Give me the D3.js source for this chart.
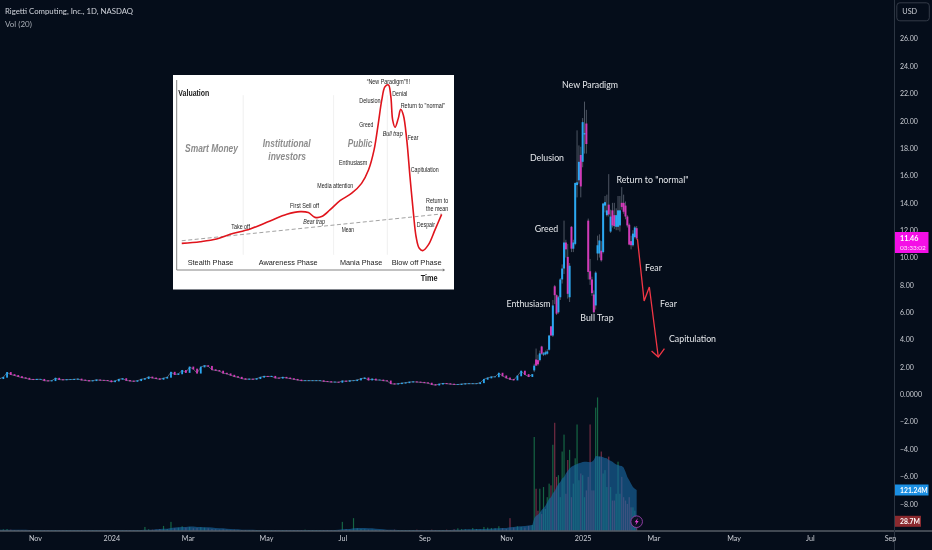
<!DOCTYPE html>
<html>
<head>
<meta charset="utf-8">
<script src="https://cdn.jsdelivr.net/npm/d3@7"></script>
<style>
  html, body { margin: 0; padding: 0; background: #050d1a; overflow: hidden; }
  svg { display: block; filter: blur(0.35px); }
  text { font-family: Lato, "Noto Sans", sans-serif; }
  .inset text { font-family: "Liberation Sans", sans-serif; fill: #1c1c1c; }
</style>
</head>
<body>
<div class="canvas"></div>
<script>
////////// DATA ///////////////////

// quiet stretch, one close read every two sessions
const flatCloses = [
  1.15,1.25,1.6,1.45,1.38,1.3,1.22,1.18,1.1,1.08,
  1.1,1.1,1.0,0.98,1.0,1.18,1.08,1.06,1.08,1.08,
  1.1,1.12,1.05,1.02,0.98,1.0,1.06,1.03,1.02,1.0,
  0.92,0.98,1.1,1.15,1.02,0.98,0.95,1.0,1.1,1.15,
  1.27,1.2,1.15,1.1,1.18,1.25,1.62,1.45,1.5,1.75,
  1.6,2.0,1.85,1.55,2.0,2.1,2.05,1.8,1.75,1.7,
  1.55,1.5,1.4,1.3,1.25,1.15,1.1,1.12,1.1,1.15,
  1.25,1.32,1.3,1.32,1.2,1.18,1.25,1.2,1.15,1.1,
  1.05,1.0,1.0,1.0,1.0,1.0,1.0,0.95,0.93,0.9,
  0.9,0.88,0.98,0.95,1.0,1.0,1.05,1.15,1.2,1.05,
  1.12,1.05,1.05,1.0,0.98,0.78,0.75,0.78,0.82,0.85,
  0.9,0.92,0.9,0.88,0.85,0.82,0.72,0.68,0.75,0.8,
  0.78,0.75,0.72,0.72,0.75,0.78,0.78,0.78,0.78,0.85,
  1.1,1.2,1.28,1.28,1.55,1.35,1.2,1.1,1.05,1.35,
  1.7,1.45,1.3,1.45
];
const flatVolumes = [
  4,5,6,4,3,3,3,2,3,3,
  2,2,3,3,2,3,2,2,3,2,
  2,2,3,2,2,3,2,2,2,3,
  2,3,2,2,3,3,2,2,3,12,
  5,4,4,6,15,6,27,8,10,14,
  10,12,8,9,11,10,8,6,5,4,
  5,4,3,4,3,3,3,3,3,3,
  3,3,3,3,3,2,3,3,2,3,
  3,3,4,3,3,3,3,3,3,3,
  3,3,27,5,4,38,8,6,5,4,
  4,3,3,3,3,3,4,3,3,3,
  3,3,4,3,3,3,4,3,3,3,
  4,3,5,8,6,5,4,9,6,5,
  12,10,9,8,14,8,6,38,10,14,
  12,10,15,18
];
const flatVolMA = [
  4,4,4,4,4,4,4,4,3,3,
  3,3,3,3,3,3,3,3,3,3,
  3,3,3,3,3,3,3,3,3,3,
  3,3,3,3,3,3,3,3,3,4,
  4,4,5,6,7,7,9,10,11,12,
  12,13,13,12,12,11,11,10,9,8,
  8,7,6,5,5,4,4,4,4,3,
  3,3,3,3,3,3,3,3,3,3,
  3,3,3,3,3,3,3,3,3,3,
  3,4,5,6,6,8,9,9,9,8,
  8,7,6,5,4,4,4,3,3,3,
  3,3,3,3,3,3,3,3,3,3,
  3,3,4,4,4,5,5,5,6,6,
  6,7,7,8,8,9,9,11,12,13,
  14,15,16,18
];

// daily candles of the run up and the fall
const opens = [
  1.75,2.55,2.5,2.5,3.5,2.9,2.92,2.97,3.26,4.97,
  4.3,7.9,7.25,6.0,7.1,8.4,9.2,11.1,10.05,7.1,
  12.25,10.65,11.0,15.3,15.65,17.5,17.0,19.0,19.8,12.7,
  9.0,8.4,7.3,6.5,10.3,10.3,10.5,10.4,13.8,13.1,
  13.87,11.9,13.45,13.1,12.25,12.25,12.35,14.0,14.0,13.8,
  13.0,12.4,11.2,10.9,11.5,12.15
];
const highs = [
  2.24,3.35,2.9,3.2,3.55,3.1,3.2,3.3,4.35,5.0,
  6.9,8.0,7.3,7.2,8.5,9.5,12.7,11.3,11.0,9.6,
  12.3,11.3,15.5,19.3,18.2,18.1,20.2,21.4,20.8,12.85,
  9.9,8.6,7.6,9.0,11.6,11.7,11.2,14.0,14.5,14.6,
  16.1,13.5,14.0,14.0,13.6,14.5,14.5,15.15,14.6,14.1,
  13.1,12.5,11.6,12.0,12.3,12.3
];
const lows = [
  1.63,2.1,2.1,2.4,2.9,2.8,2.85,2.9,3.2,4.3,
  4.2,6.6,5.8,5.9,6.9,8.1,8.8,10.0,7.0,6.75,
  10.4,10.4,10.9,14.4,15.4,14.4,16.6,17.6,17.6,8.4,
  8.0,7.2,5.9,6.2,9.8,10.0,9.7,10.3,13.3,13.0,
  13.0,11.8,12.2,12.1,12.0,12.0,11.9,13.5,13.2,12.8,
  12.2,10.9,10.6,10.8,11.4,11.3
];
const closes = [
  2.1,2.1,2.2,3.0,2.97,3.0,3.08,3.14,4.3,4.3,
  6.5,7.25,5.9,7.1,8.4,9.2,11.1,10.6,7.35,9.4,
  10.65,11.1,15.45,15.5,17.0,15.2,19.9,19.1,18.3,8.95,
  8.4,7.4,6.0,8.9,10.9,11.25,9.8,13.95,14.05,13.45,
  13.15,13.0,12.35,12.3,13.1,13.45,13.45,13.7,13.35,13.0,
  12.35,10.95,10.9,11.75,12.2,11.4
];
const volumes = [
  278,125,60,125,50,130,65,100,140,135,
  255,320,160,165,100,235,285,110,210,240,
  100,140,215,315,150,170,165,100,120,160,
  315,120,120,365,395,220,235,170,180,130,
  220,130,90,90,110,205,110,160,100,90,
  80,100,70,70,60,28.7
];
const volMA = [
  38,45,48,55,62,68,75,85,95,100,
  112,118,130,140,145,155,160,170,178,185,
  190,193,196,198,200,202,204,205,205,204,
  203,205,210,222,221,220,220,218,216,215,
  210,208,205,200,197,195,193,192,188,175,
  160,150,140,130,125,121.24
];

// session number of each time label, session 0 is the first one of Nov 2023
const timeTickSessions = [0, 41, 82, 124, 165, 209, 253, 294, 332, 375, 416, 459];
const timeTickLabels = ['Nov', '2024', 'Mar', 'May', 'Jul', 'Sep', 'Nov', '2025', 'Mar', 'May', 'Jul', 'Sep'];
const priceTicks = [26, 24, 22, 20, 18, 16, 14, 12, 10, 8, 6, 4, 2, 0, -2, -4, -6, -8];

// drawn projection of the fall
const arrowSessions = [323.4, 327, 329.8, 334.6];
const arrowPrices = [11.39, 6.83, 7.85, 2.73];
const arrowHeadSessions = [331, 334.6, 337.9];
const arrowHeadPrices = [3.17, 2.73, 3.34];

// pasted cycle picture, time and valuation both run 0 to 100 on its own axes
const cycleTime = [
  1.9,8.8,15.0,20.1,27.6,35.1,41.4,46.4,49.5,52.0,54.5,57.6,61.4,65.8,69.5,72.1,74.2,75.8,
  77.1,78.3,79.6,80.5,81.2,82.1,83.3,84.2,85.2,86.5,87.7,89.0,90.0,91.2,92.5,94.6,97.1,99.6
];
const cycleValue = [
  14.0,14.9,16.3,18.8,21.6,25.8,29.3,30.7,30.2,27.7,28.1,31.6,36.5,40.4,45.6,52.6,63.2,77.2,
  89.5,96.5,97.4,91.2,78.9,75.1,79.8,84.6,81.6,68.4,49.1,29.8,17.5,11.4,10.2,13.2,21.1,29.3
];
const meanTime = [1.9, 99.6];
const meanValue = [15.4, 29.5];

////////// SET SVG VARIABLES ///////////////////

const width = 932;
const height = 550;
const axisX = 894.5;
const baseY = 531;

const upColor = '#2aa8f2';
const downColor = '#d23ab8';
const wickColor = '#565e6b';
const labelColor = '#c9ccd3';

const svg = d3.select('.canvas')
  .append('svg')
  .attr('width', width)
  .attr('height', height);

svg.append('rect')
  .attr('width', width)
  .attr('height', height)
  .attr('fill', '#050d1a');

const x = d3.scaleLinear().domain([0, 459]).range([35, 890]);
const y = d3.scaleLinear().domain([-8, 26]).range([503.8, 38.7]);
const vol = d3.scaleLinear().domain([0, 121.24]).range([baseY, 490]);

const firstFlatSession = -19;
const firstCandleSession = 268;

const flat = flatCloses.map((c, i) => ({
  session: firstFlatSession + i * 2,
  open: i ? flatCloses[i - 1] : c,
  close: c,
  volume: flatVolumes[i],
  ma: flatVolMA[i]
}));
const candles = closes.map((c, i) => ({
  session: firstCandleSession + i,
  open: opens[i],
  high: highs[i],
  low: lows[i],
  close: c,
  volume: volumes[i],
  ma: volMA[i]
}));
const allBars = flat.concat(candles);

////////// VOLUME ///////////////////

const volArea = d3.area()
  .x(d => x(d.session))
  .y0(baseY)
  .y1(d => vol(d.ma))
  .curve(d3.curveLinear);

svg.selectAll('.vol-bar')
  .data(allBars)
  .enter()
  .append('rect')
  .attr('class', 'vol-bar')
  .attr('x', d => x(d.session) - 0.6)
  .attr('y', d => vol(d.volume))
  .attr('width', 1.2)
  .attr('height', d => baseY - vol(d.volume))
  .attr('fill', d => d.close >= d.open ? '#1c8a55' : '#a23a55')
  .attr('opacity', 0.7);

svg.append('path')
  .datum(allBars)
  .attr('d', volArea)
  .attr('fill', '#1a6aa6')
  .attr('opacity', 0.62);

////////// CANDLES ///////////////////

svg.append('path')
  .datum(flat)
  .attr('d', d3.line().x(d => x(d.session)).y(d => y(d.close)))
  .attr('fill', 'none')
  .attr('stroke', '#6a7280')
  .attr('stroke-width', 0.8);

svg.selectAll('.flat-body')
  .data(flat)
  .enter()
  .append('rect')
  .attr('class', 'flat-body')
  .attr('x', d => x(d.session) - 0.9)
  .attr('y', d => y(Math.max(d.open, d.close)) - 0.4)
  .attr('width', 1.8)
  .attr('height', d => Math.abs(y(d.open) - y(d.close)) + 0.8)
  .attr('fill', d => d.close >= d.open ? upColor : downColor);

svg.selectAll('.wick')
  .data(candles)
  .enter()
  .append('line')
  .attr('class', 'wick')
  .attr('x1', d => x(d.session))
  .attr('x2', d => x(d.session))
  .attr('y1', d => y(d.high))
  .attr('y2', d => y(d.low))
  .attr('stroke', wickColor)
  .attr('stroke-width', 0.9);

svg.selectAll('.body')
  .data(candles)
  .enter()
  .append('rect')
  .attr('class', 'body')
  .attr('x', d => x(d.session) - 1)
  .attr('y', d => y(Math.max(d.open, d.close)))
  .attr('width', 2)
  .attr('height', d => Math.max(1, Math.abs(y(d.open) - y(d.close))))
  .attr('fill', d => d.close >= d.open ? upColor : downColor);

////////// AXES ///////////////////

// grey line under the panes and the price axis line
svg.append('line')
  .attr('x1', 0).attr('x2', width)
  .attr('y1', baseY).attr('y2', baseY)
  .attr('stroke', '#565c66')
  .attr('stroke-width', 1.4);

svg.append('line')
  .attr('x1', axisX).attr('x2', axisX)
  .attr('y1', 0).attr('y2', height)
  .attr('stroke', '#2c3542');

const yAxis = d3.axisRight(y)
  .tickValues(priceTicks)
  .tickSize(0)
  .tickPadding(5.5)
  .tickFormat(d => d === 0 ? '0.0000' : (d < 0 ? '\u2212' + d3.format('.2f')(-d) : d3.format('.2f')(d)));

const gY = svg.append('g')
  .attr('transform', `translate(${axisX}, 0)`)
  .call(yAxis);
gY.select('.domain').remove();
gY.selectAll('text')
  .attr('fill', labelColor)
  .style('font-size', '7px');

const xAxis = d3.axisBottom(x)
  .tickValues(timeTickSessions)
  .tickSize(0)
  .tickPadding(4.5)
  .tickFormat((d, i) => timeTickLabels[i]);

const gX = svg.append('g')
  .attr('transform', `translate(0, ${baseY})`)
  .call(xAxis);
gX.select('.domain').remove();
gX.selectAll('text')
  .attr('fill', labelColor)
  .style('font-size', '7.2px');

////////// TITLE ///////////////////

svg.append('text')
  .attr('x', 5).attr('y', 14.3)
  .attr('fill', '#d1d4dc')
  .style('font-size', '7.8px')
  .text('Rigetti Computing, Inc., 1D, NASDAQ');

svg.append('text')
  .attr('x', 5).attr('y', 26.5)
  .attr('fill', '#a8adb6')
  .style('font-size', '8px')
  .text('Vol (20)');

////////// PRICE TAGS ///////////////////

svg.append('rect')
  .attr('x', 896.8).attr('y', 2.8)
  .attr('width', 32.5).attr('height', 18)
  .attr('rx', 3)
  .attr('fill', '#050d1a')
  .attr('stroke', '#343b48');

svg.append('text')
  .attr('x', 902.3).attr('y', 14.3)
  .attr('fill', labelColor)
  .style('font-size', '7.3px')
  .text('USD');

svg.append('rect')
  .attr('x', 895).attr('y', 232)
  .attr('width', 33.5).attr('height', 21)
  .attr('fill', '#f40fe6');

svg.append('text')
  .attr('x', 900).attr('y', 241)
  .attr('fill', '#fff')
  .style('font-size', '7.2px')
  .style('font-weight', 700)
  .text('11.46');

svg.append('text')
  .attr('x', 900).attr('y', 250.3)
  .attr('fill', '#ffe4fb')
  .style('font-size', '6.5px')
  .text('03:33:02');

svg.append('rect')
  .attr('x', 895).attr('y', vol(121.24) - 5.5)
  .attr('width', 33.5).attr('height', 11)
  .attr('fill', '#1b8fe3');

svg.append('text')
  .attr('x', 900).attr('y', vol(121.24) + 2.5)
  .attr('fill', '#fff')
  .style('font-size', '6.8px')
  .style('font-weight', 700)
  .text('121.24M');

svg.append('rect')
  .attr('x', 895).attr('y', vol(28.7) - 5.5)
  .attr('width', 26).attr('height', 11)
  .attr('fill', '#8b2a2f');

svg.append('text')
  .attr('x', 900).attr('y', vol(28.7) + 2.5)
  .attr('fill', '#fff')
  .style('font-size', '6.8px')
  .style('font-weight', 700)
  .text('28.7M');

// lightning marker
const bolt = svg.append('g').attr('transform', `translate(${x(323)}, 521.7)`);
bolt.append('circle')
  .attr('r', 5.8)
  .attr('fill', '#0a1020')
  .attr('stroke', '#9b3fae')
  .attr('stroke-width', 0.9);
bolt.append('path')
  .attr('d', 'M1.2,-3.8 L-2,0.6 L-0.2,0.6 L-1.2,3.8 L2,-0.8 L0.2,-0.8 Z')
  .attr('fill', '#e040d0');

////////// DRAWN ARROW AND NOTES ///////////////////

const arrowLine = d3.line().x(d => x(d[0])).y(d => y(d[1]));

svg.append('path')
  .attr('d', arrowLine(d3.zip(arrowSessions, arrowPrices)))
  .attr('fill', 'none')
  .attr('stroke', '#f23645')
  .attr('stroke-width', 1.3);

svg.append('path')
  .attr('d', arrowLine(d3.zip(arrowHeadSessions, arrowHeadPrices)))
  .attr('fill', 'none')
  .attr('stroke', '#f23645')
  .attr('stroke-width', 1.3);

function note(label, cx, cy) {
  svg.append('text')
    .attr('x', cx)
    .attr('y', cy)
    .attr('dy', '0.35em')
    .attr('text-anchor', 'middle')
    .attr('fill', '#e6e8ec')
    .style('font-size', '8.8px')
    .text(label);
}

note('New Paradigm', 590, 85);
note('Delusion', 547, 158);
note('Greed', 546.5, 229);
note('Enthusiasm', 528.5, 304);
note('Bull Trap', 597, 318);
note('Return to "normal"', 652.5, 180);
note('Fear', 653.5, 267.5);
note('Fear', 668.5, 304);
note('Capitulation', 692.5, 339);

////////// INSET PICTURE ///////////////////

const inset = svg.append('g').attr('class', 'inset');

inset.append('rect')
  .attr('x', 173).attr('y', 75)
  .attr('width', 281).attr('height', 214.5)
  .attr('fill', '#fff');

const cx = d3.scaleLinear().domain([0, 100]).range([176.7, 442.7]);
const cy = d3.scaleLinear().domain([0, 100]).range([270, 80]);

// phase separators
[25, 59, 79.2].forEach(t => {
  inset.append('line')
    .attr('x1', cx(t)).attr('x2', cx(t))
    .attr('y1', cy(92)).attr('y2', cy(8))
    .attr('stroke', '#eaeaea')
    .attr('stroke-width', 0.7);
});

inset.append('path')
  .attr('d', `M${cx(0)},${cy(100)} L${cx(0)},${cy(0)} L${cx(100)},${cy(0)}`)
  .attr('fill', 'none')
  .attr('stroke', '#777')
  .attr('stroke-width', 0.9);

inset.append('path')
  .attr('d', `M${cx(100)},${cy(0) - 1.6} L${cx(100) + 2.5},${cy(0)} L${cx(100)},${cy(0) + 1.6} Z`)
  .attr('fill', '#777');

inset.append('path')
  .attr('d', d3.line().x(d => cx(d[0])).y(d => cy(d[1]))(d3.zip(meanTime, meanValue)))
  .attr('fill', 'none')
  .attr('stroke', '#8a8a8a')
  .attr('stroke-width', 0.8)
  .attr('stroke-dasharray', '4,2.5');

inset.append('path')
  .attr('d', d3.line().x(d => cx(d[0])).y(d => cy(d[1])).curve(d3.curveCatmullRom)(d3.zip(cycleTime, cycleValue)))
  .attr('fill', 'none')
  .attr('stroke', '#e0141c')
  .attr('stroke-width', 1.6);

// the pasted picture uses a condensed face, squeeze the text to its width
function insetLabel(label, left, mid, size, w, opts) {
  const t = inset.append('text')
    .attr('x', left)
    .attr('y', mid)
    .attr('dy', '0.35em')
    .attr('textLength', w)
    .attr('lengthAdjust', 'spacingAndGlyphs')
    .style('font-size', size + 'px')
    .text(label);
  if (opts && opts.bold) t.style('font-weight', 700);
  if (opts && opts.italic) t.style('font-style', 'italic');
  if (opts && opts.fill) t.style('fill', opts.fill);
}

const grey = '#8c8c8c';
insetLabel('Valuation', 178.3, 92.7, 8.5, 31, {bold: true});
insetLabel('Smart Money', 185, 148, 11.5, 53, {bold: true, italic: true, fill: grey});
insetLabel('Institutional', 262.7, 142.7, 11.5, 48, {bold: true, italic: true, fill: grey});
insetLabel('investors', 268.3, 156, 11.5, 37.7, {bold: true, italic: true, fill: grey});
insetLabel('Public', 347.7, 142.7, 11.5, 24.7, {bold: true, italic: true, fill: grey});

insetLabel('\u201cNew Paradigm\u201d!!!', 366.7, 81.7, 6.8, 43.3);
insetLabel('Denial', 392.3, 93.7, 6.8, 15);
insetLabel('Delusion', 359.3, 101, 6.8, 21.3);
insetLabel('Return to "normal"', 400.7, 105.3, 6.8, 44.3);
insetLabel('Greed', 359.3, 124.3, 6.8, 14);
insetLabel('Bull trap', 382.7, 133.3, 6.8, 20, {italic: true});
insetLabel('Fear', 407.7, 137.3, 6.8, 10.7);
insetLabel('Enthusiasm', 339, 162.7, 6.8, 28.3);
insetLabel('Capitulation', 410.7, 169.3, 6.8, 28);
insetLabel('Media attention', 317.3, 185.7, 6.8, 36);
insetLabel('Return to', 426, 200.3, 6.8, 22.3);
insetLabel('the mean', 426, 208.3, 6.8, 22.3);
insetLabel('First Sell off', 290, 206, 6.8, 29);
insetLabel('Bear trap', 303.3, 221.7, 6.8, 21.7, {italic: true});
insetLabel('Take off', 231.3, 226.7, 6.8, 18.7);
insetLabel('Despair', 416.7, 225, 6.8, 18.3);
insetLabel('Mean', 341.7, 229.7, 6.8, 12.3);

insetLabel('Stealth Phase', 187.7, 262.7, 7.8, 45.7);
insetLabel('Awareness Phase', 258.7, 262.7, 7.8, 59);
insetLabel('Mania Phase', 340, 262.7, 7.8, 42.3);
insetLabel('Blow off Phase', 391.7, 262.7, 7.8, 50);
insetLabel('Time', 420.7, 278, 9, 17, {bold: true});
</script>
</body>
</html>
